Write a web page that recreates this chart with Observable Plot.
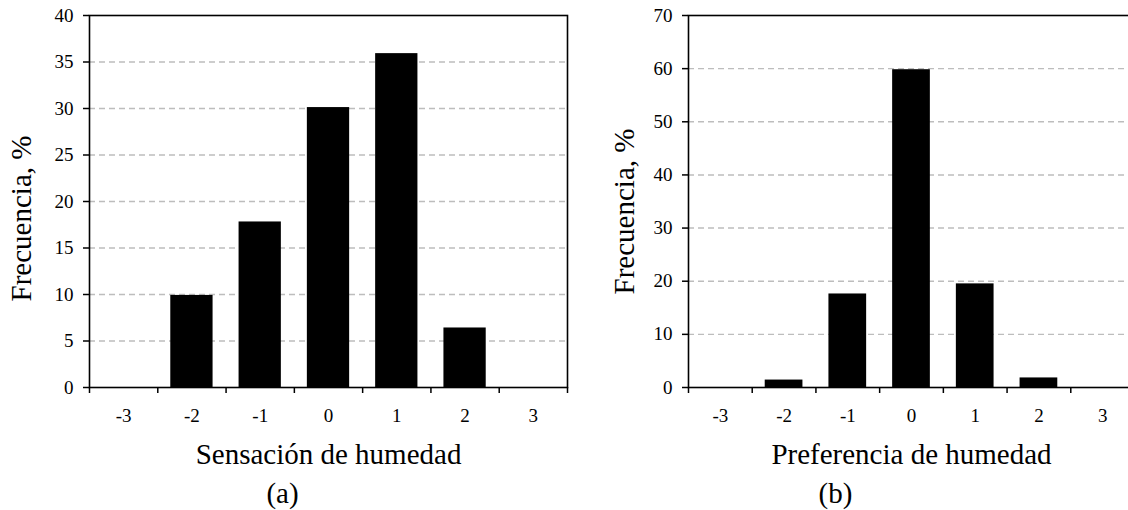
<!DOCTYPE html>
<html><head><meta charset="utf-8">
<script src="https://cdn.jsdelivr.net/npm/d3@7"></script>
<script src="https://cdn.jsdelivr.net/npm/@observablehq/plot@0.6"></script>
<style>
html,body{margin:0;padding:0;background:#fff;}
#wrap{position:relative;width:1128px;height:510px;overflow:hidden;background:#fff;}
#a,#b{position:absolute;top:0;width:600px;height:510px;}
#a{left:0px;} #b{left:600px;}
#a svg,#b svg{max-width:none !important;width:600px;height:510px;display:block;}
</style></head><body>
<div id="wrap"><div id="a"></div><div id="b"></div></div>
<script>
const categories = [-3, -2, -1, 0, 1, 2, 3];
const xTickLabels = ["-3", "-2", "-1", "0", "1", "2", "3"];
const sensacion = [0, 9.9, 17.8, 30.1, 35.9, 6.4, 0];
const preferencia = [0, 1.4, 17.6, 59.8, 19.5, 1.8, 0];
const yTicksA = [0, 5, 10, 15, 20, 25, 30, 35, 40];
const yTicksB = [0, 10, 20, 30, 40, 50, 60, 70];
const yTitle = "Frecuencia, %";
const xTitleA = "Sensación de humedad";
const xTitleB = "Preferencia de humedad";
const captionA = "(a)";
const captionB = "(b)";

const FONT = "'Liberation Serif', 'Times New Roman', serif";

function panel(values, yTicks, xTitle, caption, m, capDx, yTitleDx, yTitleDy) {
  const data = categories.map((c, i) => ({cat: c, value: values[i]}));
  const boundaries = categories.map(c => c - 0.5).concat([categories[categories.length - 1] + 0.5]);
  const yMax = yTicks[yTicks.length - 1];
  const grid = yTicks.filter(t => t > 0 && t < yMax);
  return Plot.plot({
    width: 600, height: 510,
    marginLeft: m.left, marginRight: m.right, marginTop: 15, marginBottom: 123,
    style: {fontFamily: FONT, fontSize: "19px", color: "black", background: "white"},
    x: {type: "linear", domain: [boundaries[0], boundaries[boundaries.length - 1]]},
    y: {domain: [0, yMax]},
    marks: [
      Plot.ruleY(grid, {stroke: "#bdbdbd", strokeWidth: 1.4, strokeDasharray: "6,4"}),
      Plot.rectY(data, {x1: d => d.cat - 0.5, x2: d => d.cat + 0.5, y: "value", fill: "black", insetLeft: 13, insetRight: 13}),
      Plot.frame({stroke: "black", strokeWidth: 1.6}),
      Plot.axisY({ticks: yTicks, tickSize: 6, tickPadding: 10, label: null, strokeWidth: 1.5}),
      Plot.axisX({ticks: boundaries, tickSize: 6, tickFormat: () => "", label: null, strokeWidth: 1.5}),
      Plot.axisX({ticks: categories, tickSize: 0, tickPadding: 21, tickFormat: d => xTickLabels[categories.indexOf(d)], label: null}),
      Plot.text([xTitle], {frameAnchor: "bottom", dy: 67, textAnchor: "middle", lineAnchor: "middle", fontSize: 29, fill: "black"}),
      Plot.text([caption], {frameAnchor: "bottom", dy: 106, dx: capDx, textAnchor: "middle", lineAnchor: "middle", fontSize: 29, fill: "black"}),
      Plot.text([yTitle], {frameAnchor: "left", dx: yTitleDx, dy: yTitleDy, rotate: -90, textAnchor: "middle", lineAnchor: "middle", fontSize: 29, fill: "black"})
    ]
  });
}

document.getElementById("a").appendChild(panel(sensacion, yTicksA, xTitleA, captionA, {left: 89, right: 33}, -46, -68, 17));
document.getElementById("b").appendChild(panel(preferencia, yTicksB, xTitleB, captionB, {left: 88, right: 66}, -76, -64, 10));
</script>
</body></html>
